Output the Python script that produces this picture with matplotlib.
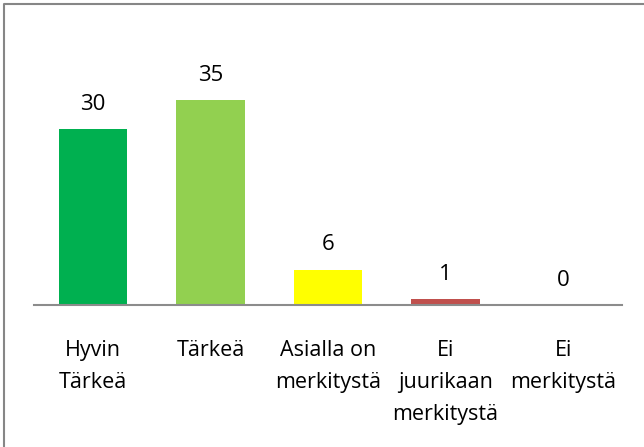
import matplotlib.pyplot as plt
from matplotlib.lines import Line2D

categories = ['Hyvin\nTärkeä', 'Tärkeä', 'Asialla on\nmerkitystä',
              'Ei\njuurikaan\nmerkitystä', 'Ei\nmerkitystä']
values = [30, 35, 6, 1, 0]
colors = ['#00B050', '#92D050', '#FFFF00', '#C0504D', '#C0504D']

plt.rcParams['font.family'] = ['Open Sans', 'DejaVu Sans']

fig = plt.figure(figsize=(6.44, 4.47), dpi=100)
ax = fig.add_axes([34 / 644, 1 - 305 / 447, 588 / 644, 234 / 447])

x = range(len(values))
ax.bar(x, values, width=0.58, color=colors)
ax.set_xlim(-0.5, len(values) - 0.5)
ax.set_ylim(0, 40)

# value labels above bars
for xi, v in zip(x, values):
    ax.annotate(str(v), (xi, v), xytext=(0, 18), textcoords='offset points',
                ha='center', va='center', fontsize=16, color='#000000')

# category labels, one line at a time so every first line shares a baseline
for xi, cat in zip(x, categories):
    for i, line in enumerate(cat.split('\n')):
        ax.annotate(line, (xi, 0), xycoords=('data', 'axes fraction'),
                    xytext=(0, -(51 + i * 32) * 0.72), textcoords='offset points',
                    ha='center', va='baseline', fontsize=15.5, color='#000000')

ax.set_xticks([])
ax.set_yticks([])
for s in ['top', 'left', 'right']:
    ax.spines[s].set_visible(False)
ax.spines['bottom'].set_color('#8C8C8C')
ax.spines['bottom'].set_linewidth(1.5)

# chart border (only left and top edges visible in the crop)
fig.lines.append(Line2D([4 / 644, 4 / 644, 1], [0, 1 - 4 / 447, 1 - 4 / 447],
                        transform=fig.transFigure, color='#868686', linewidth=1.5))

fig.savefig('out.png', dpi=100)
